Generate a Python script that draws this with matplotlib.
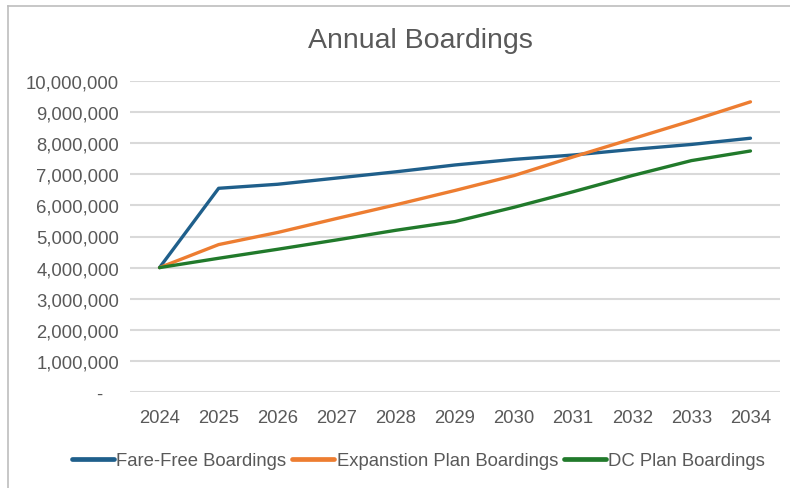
import matplotlib
matplotlib.use("Agg")
import matplotlib.pyplot as plt
from matplotlib.lines import Line2D
from matplotlib.ticker import FixedLocator

years = ["2024", "2025", "2026", "2027", "2028", "2029", "2030", "2031", "2032", "2033", "2034"]
fare_free = [4000000, 6550000, 6680000, 6880000, 7080000, 7300000, 7480000, 7620000, 7800000, 7960000, 8160000]
expansion = [4000000, 4740000, 5130000, 5580000, 6020000, 6480000, 6960000, 7560000, 8140000, 8720000, 9330000]
dc_plan = [4000000, 4300000, 4590000, 4890000, 5200000, 5480000, 5940000, 6440000, 6960000, 7440000, 7750000]
series_names = ["Fare-Free Boardings", "Expanstion Plan Boardings", "DC Plan Boardings"]
y_ticks = [0, 1000000, 2000000, 3000000, 4000000, 5000000, 6000000, 7000000, 8000000, 9000000, 10000000]

colors = ["#1f5f8b", "#ed7d31", "#217a2b"]
text_color = "#595959"
plt.rcParams['font.family'] = ['Liberation Sans', 'DejaVu Sans']

W, H = 790, 489
fig = plt.figure(figsize=(W / 100, H / 100), dpi=100)
ax = fig.add_axes([130 / W, 1 - 393 / H, 650 / W, (393 - 82) / H])

x = list(range(len(years)))
for vals, c, name in zip([fare_free, expansion, dc_plan], colors, series_names):
    ax.plot(x, vals, color=c, lw=2.4, label=name, solid_joinstyle='round', solid_capstyle='round', zorder=3)

ax.set_xlim(-0.5, len(years) - 0.5)
ax.set_ylim(0, 10000000)
ax.set_xticks(x)
ax.set_xticklabels(years)
ax.yaxis.set_major_locator(FixedLocator(y_ticks))
ax.set_yticklabels(["-   "] + [f"{v:,}" for v in y_ticks[1:]])
ax.tick_params(axis='both', length=0, labelsize=13.3, labelcolor=text_color)
ax.tick_params(axis='x', pad=12.5)
ax.tick_params(axis='y', pad=8)
ax.grid(axis='y', color='#d9d9d9', lw=1.5, zorder=0)
for s in ax.spines.values():
    s.set_visible(False)

fig.text(420.5 / W, 1 - 47.7 / H, "Annual Boardings", ha='center', va='baseline',
         fontsize=20.5, color=text_color)

leg = fig.legend(loc='center', bbox_to_anchor=(418.5 / W, 1 - 461.5 / H), ncol=3, frameon=False,
                 fontsize=13.3, handlelength=2.27, handletextpad=0.15, columnspacing=0.3,
                 labelcolor=text_color)
for ln in leg.get_lines():
    ln.set_linewidth(3.4)

# figure border (top and left edges)
top_y = 1 - 6.7 / H
left_x = 8 / W
fig.add_artist(Line2D([left_x, 1], [top_y, top_y], transform=fig.transFigure, color='#bdbdbd', lw=1.2))
fig.add_artist(Line2D([left_x, left_x], [0, top_y], transform=fig.transFigure, color='#bdbdbd', lw=1.2))

fig.savefig("out.png", dpi=100, facecolor='white')
